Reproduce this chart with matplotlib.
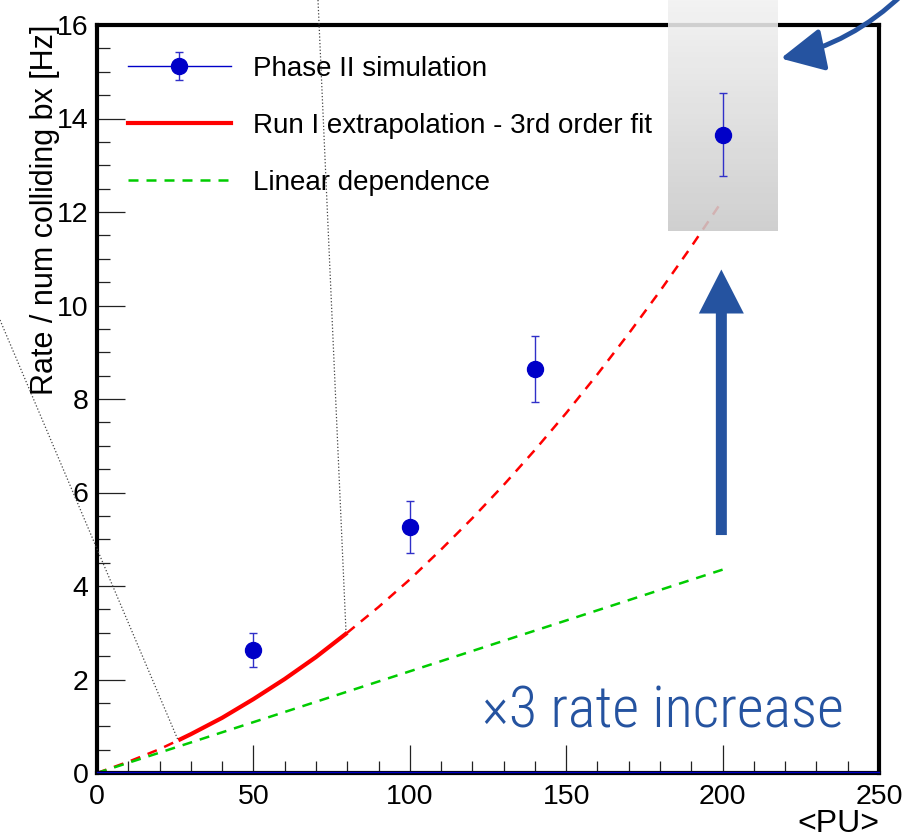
import numpy as np
import matplotlib
matplotlib.use("Agg")
import matplotlib.pyplot as plt
from matplotlib import font_manager
from matplotlib.lines import Line2D
from matplotlib.patches import FancyArrow, FancyArrowPatch
from matplotlib.legend_handler import HandlerTuple

plt.rcParams['font.family'] = ['Liberation Sans', 'DejaVu Sans']

# Phase II simulation points
pu_sim = [50, 100, 140, 200]
rate_sim = [2.63, 5.26, 8.64, 13.65]
rate_err = [0.37, 0.55, 0.70, 0.89]

# Run I extrapolation (3rd order fit)
pu_fit = [0, 10, 20, 26, 30, 40, 50, 60, 70, 80, 90, 100, 110, 120, 130,
          140, 150, 160, 170, 180, 190, 200]
rate_fit = [0.0, 0.24, 0.51, 0.70, 0.83, 1.18, 1.58, 2.01, 2.48, 3.00, 3.55,
            4.14, 4.78, 5.45, 6.16, 6.91, 7.70, 8.53, 9.40, 10.31, 11.26, 12.25]
fit_range = (26, 80)  # solid part (Run I range)

# Linear dependence
pu_lin = [0, 200]
rate_lin = [0.0, 4.35]

BLUE = "#0000c8"
ARROW = "#2553a0"

# a narrow font for the big annotation, if one is around
names = {f.name for f in font_manager.fontManager.ttflist}
narrow = None
for cand in ["Liberation Sans Narrow", "DejaVu Sans Condensed", "Roboto Condensed",
             "Open Sans Condensed"]:
    if cand in names:
        narrow = cand
        break

fig = plt.figure(figsize=(9.03, 8.39), dpi=100)
W, H = 903.0, 839.0
ax = fig.add_axes([97 / W, 1 - 773 / H, (879 - 97) / W, (773 - 25) / H])

# red fit curve: dashed everywhere, solid inside the Run I range
ax.plot(pu_fit, rate_fit, color="red", lw=1.8, ls=(0, (4, 3.2)), zorder=2)
solid = [i for i, p in enumerate(pu_fit) if fit_range[0] <= p <= fit_range[1]]
ax.plot([pu_fit[i] for i in solid], [rate_fit[i] for i in solid],
        color="red", lw=3.0, solid_capstyle="butt", zorder=2)
ax.plot(pu_lin, rate_lin, color="#00cc00", lw=1.8, ls=(0, (4, 3.2)), zorder=2)

# gray gradient box behind last point
grad = np.linspace(0.95, 0.79, 100)[:, None] * np.ones((1, 2))
img = np.dstack([grad, grad, grad])
ax.imshow(img, extent=[182.5, 217.4, 11.59, 16.55], aspect="auto",
          origin="upper", clip_on=False, zorder=3, alpha=0.88)

eb = ax.errorbar(pu_sim, rate_sim, yerr=rate_err, fmt="o", color=BLUE,
                 ecolor="#3030c8", elinewidth=1.0, capsize=3, capthick=1.0,
                 ms=11.5, zorder=4)

# baseline
ax.plot([0, 250], [0.02, 0.02], color=BLUE, lw=1.0, clip_on=False, zorder=3)

ax.set_xlim(0, 250)
ax.set_ylim(0, 16)
ax.set_xticks(np.arange(0, 251, 50))
ax.set_xticks(np.arange(0, 251, 10), minor=True)
ax.set_yticks(np.arange(0, 17, 2))
ax.set_yticks(np.arange(0, 16.1, 0.5), minor=True)
ax.tick_params(which="both", direction="in", top=False, right=False,
               labelsize=20.5, width=0.9, color="#222222")
ax.tick_params(which="major", length=20)
ax.tick_params(which="minor", length=9)
ax.tick_params(axis="x", which="major", pad=8)
ax.tick_params(axis="y", which="major", pad=6)
for s in ax.spines.values():
    s.set_linewidth(3.0)

ax.set_ylabel("Rate / num colliding bx [Hz]", fontsize=22, loc="top", labelpad=-2)
ax.set_xlabel("<PU>", fontsize=23, loc="right", labelpad=-1)

# legend
h_sim = (Line2D([], [], color=BLUE, lw=1.0), eb)
h_fit = Line2D([], [], color="red", lw=3.0)
h_lin = Line2D([], [], color="#00cc00", lw=1.8, ls=(0, (4, 3.2)))
ax.legend([h_sim, h_fit, h_lin],
          ["Phase II simulation", "Run I extrapolation - 3rd order fit", "Linear dependence"],
          handler_map={tuple: HandlerTuple(ndivide=1)}, frameon=False,
          fontsize=20, handlelength=3.7, handletextpad=0.8, labelspacing=1.12,
          loc="upper left", bbox_to_anchor=(128 / W, 1 - 56 / H),
          bbox_transform=fig.transFigure, borderaxespad=0, borderpad=0)

# big vertical arrow
ax.add_patch(FancyArrow(199.6, 5.09, 0, 10.77 - 5.09, width=11 / 3.128,
                        head_width=45 / 3.128, head_length=44 / 46.75,
                        length_includes_head=True, color=ARROW, lw=0, zorder=5))

if narrow:
    ax.text(123, 0.98, "\u00d73 rate increase", color=ARROW, fontsize=42,
            family=[narrow, "Liberation Sans"], fontweight="light",
            ha="left", va="baseline")
else:
    ax.text(123, 0.98, "\u00d73 rate increase", color=ARROW, fontsize=37,
            ha="left", va="baseline")

# curved arrow coming from outside the plot
fig.add_artist(FancyArrowPatch((905 / W, 1 + 8 / H), (778 / W, 1 - 59 / H),
                               transform=fig.transFigure,
                               connectionstyle="arc3,rad=-0.15",
                               arrowstyle="-|>,head_width=0.6,head_length=1.2",
                               mutation_scale=22, lw=3.5, color=ARROW))

# dotted zoom lines
fig.add_artist(Line2D([0, 178 / W], [1 - 320 / H, 1 - 740 / H], ls=":", lw=0.9,
                      color="#444444", transform=fig.transFigure))
fig.add_artist(Line2D([318 / W, 346 / W], [1.0, 1 - 632 / H], ls=":", lw=0.9,
                      color="#444444", transform=fig.transFigure))

fig.savefig("out.png", dpi=100)
